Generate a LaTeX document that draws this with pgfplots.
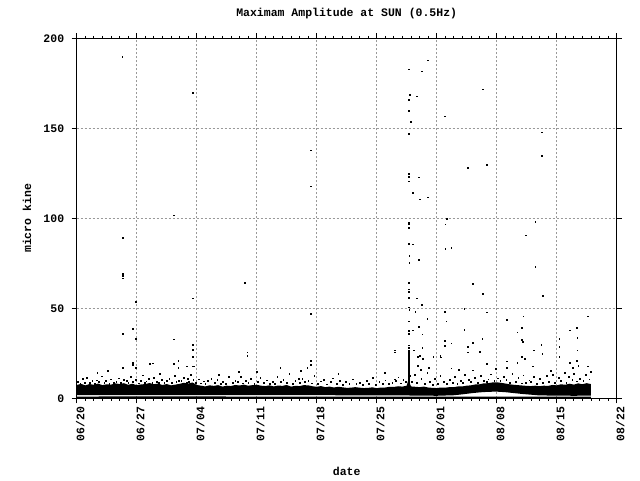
\documentclass[border=0pt]{standalone}
\usepackage{fontspec}
\setmonofont{Liberation Mono}
\usepackage{pgfplots}
\pgfplotsset{compat=1.18}
\begin{document}
\begin{tikzpicture}
\useasboundingbox (-76.7pt,-81.7pt) rectangle (563.3pt,398.3pt);
\begin{axis}[
  at={(0pt,0pt)}, anchor=south west,
  width=540pt, height=360pt, scale only axis,
  xmin=0, xmax=63, ymin=0, ymax=200,
  xtick={0,7,14,21,28,35,42,49,56,63},
  xticklabels={06/20,06/27,07/04,07/11,07/18,07/25,08/01,08/08,08/15,08/22},
  minor x tick num=6,
  ytick={0,50,100,150,200},
  tick align=outside,
  major tick length=5pt, minor tick length=2.5pt,
  tick style={black, line width=0.9pt},
  axis line style={line width=0.9pt},
  grid=major,
  major grid style={color=black!40, dash pattern=on 2pt off 2pt, line width=0.8pt},
  font=\ttfamily\bfseries\fontsize{11.5}{13}\selectfont,
  /pgf/number format/assume math mode=true,
  x tick label style={rotate=90, anchor=east, yshift=-3.5pt},
  y tick label style={xshift=-4pt},
  title={Maximam Amplitude at SUN (0.5Hz)},
  title style={at={(axis description cs:0.5,1.053)}, anchor=center},
  xlabel={date},
  xlabel style={at={(axis description cs:0.5,-0.204)}, anchor=center},
  ylabel={micro kine},
  ylabel style={at={(axis description cs:-0.092,0.5)}, anchor=center},
  clip=true,
  every mark/.append style={draw=none},
]
% dense core band
\addplot[fill=black, draw=none] coordinates {
(0,7.4) (0.5,8.0) (1,7.2) (1.5,7.9) (2,7.5) (2.5,8.2) (3,7.3) (3.5,7.8) (4,7.6) (4.5,8.3)
(5,7.9) (5.5,8.4) (6,7.5) (6.5,8.1) (7,7.3) (7.5,7.7) (8,7.9) (8.5,8.5) (9,7.8) (9.5,8.2)
(10,7.4) (10.5,7.9) (11,7.2) (11.5,7.6) (12,8.0) (12.5,8.6) (13,8.2) (13.5,8.8) (14,7.4) (14.5,7.0)
(15,6.6) (15.5,7.2) (16,6.9) (16.5,7.3) (17,6.5) (17.5,7.0) (18,6.8) (18.5,7.4) (19,7.1) (19.5,7.6)
(20,7.0) (20.5,7.3) (21,7.5) (21.5,7.0) (22,6.8) (22.5,7.2) (23,6.6) (23.5,7.1) (24,6.9) (24.5,7.4)
(25,6.5) (25.5,6.9) (26,6.8) (26.5,7.3) (27,7.2) (27.5,6.7) (28,6.4) (28.5,6.8) (29,6.2) (29.5,6.5)
(30,6.0) (30.5,6.4) (31,6.1) (31.5,5.8) (32,5.9) (32.5,6.2) (33,5.9) (33.5,5.7) (34,5.8) (34.5,6.1)
(35,5.6) (35.5,6.0) (36,6.0) (36.5,6.4) (37,6.3) (37.5,6.7) (38,6.5) (38.5,7.0) (38.65,9.5) (38.7,14)
(38.75,9.5) (39,6.6) (39.5,6.4) (40,6.2) (40.5,6.5) (41,6.0) (41.5,5.8) (42,5.7) (42.5,6.0) (43,5.9)
(43.5,6.2) (44,6.2) (44.5,6.6) (45,6.6) (45.5,7.0) (46,7.2) (46.5,7.7) (47,7.8) (47.5,8.3) (48,8.4)
(48.5,8.8) (49,8.9) (49.5,8.6) (50,8.2) (50.5,7.8) (51,7.5) (51.5,7.3) (52,7.1) (52.5,6.9) (53,6.8)
(53.5,7.0) (54,6.7) (54.5,7.0) (55,6.9) (55.5,7.4) (56,7.2) (56.5,7.8) (57,7.5) (57.5,8.1) (58,7.6)
(58.5,8.3) (59,7.8) (59.5,8.4) (60,7.9)
(60,1.5) (58,1.4) (56,1.5) (54,1.6) (53,2.0) (52,2.4) (51,2.9) (50,3.4) (49,3.7) (48,3.6)
(47,3.3) (46,2.8) (45,2.2) (44,1.7) (42,1.4) (40,1.5) (38,1.6) (35,1.6) (30,1.7) (25,1.7)
(20,1.7) (15,1.8) (10,1.7) (5,1.8) (0,1.7)
} -- cycle;
% thin low line
\addplot[black, line width=1.4pt] coordinates {(0,0.6) (10,0.65) (20,0.6) (30,0.55) (40,0.5) (50,0.6) (60,0.55)};
% scattered points above the band
\addplot[only marks, mark=square*, mark size=0.42pt, black] coordinates {
(0.1,9.3) (0.4,8.4) (0.7,10.9) (0.9,8.9) (1.2,11.6) (1.5,8.7) (1.8,9.6)
(2.1,8.2) (2.3,10.1) (2.6,9.0) (2.9,12.3) (3.2,8.8) (3.4,9.9) (3.8,8.3)
(4.0,10.6) (4.3,8.5) (4.6,9.4) (4.9,11.2) (5.1,8.9) (5.5,10.3) (5.8,9.7)
(6.0,8.6) (6.3,11.9) (6.5,9.2) (6.9,10.5) (7.2,8.4) (7.5,9.8) (7.7,12.8) (7.9,8.9)
(8.1,9.5) (8.4,10.8) (8.8,8.7) (9.0,11.4) (9.3,9.1) (9.6,8.6) (9.9,10.2)
(10.2,8.8) (10.5,9.9) (10.8,11.0) (11.1,8.5) (11.4,12.4) (11.6,9.3) (11.9,10.0)
(12.2,9.6) (12.5,11.3) (12.8,8.7) (12.95,10.7) (13.1,9.0) (13.3,12.9) (13.6,10.4) (13.9,8.9)
(14.2,10.6) (14.5,8.4) (14.8,9.5) (15.0,8.0) (15.3,9.7) (15.7,11.1)
(16.1,8.6) (16.4,10.2) (16.8,7.9) (17.0,9.4) (17.4,8.2) (17.7,11.8)
(18.2,8.8) (18.5,10.0) (18.8,9.1) (19.1,12.2) (19.4,8.4) (19.7,9.6)
(20.0,8.9) (20.3,10.8) (20.7,8.1) (21.1,9.3) (21.4,11.5) (21.8,8.5)
(22.2,10.1) (22.5,8.0) (22.9,9.0) (23.1,8.3) (23.4,12.0) (23.8,9.4)
(24.1,10.4) (24.5,8.6) (24.8,13.5) (25.2,8.2) (25.5,9.9) (25.9,10.9)
(26.0,8.7) (26.3,11.0) (26.6,9.2) (27.0,9.8) (27.4,8.4) (27.7,12.6)
(28.1,8.1) (28.5,9.5) (28.8,10.3) (29.2,7.8) (29.6,9.0) (29.9,11.2)
(30.3,8.3) (30.7,10.0) (31.0,7.6) (31.4,9.1) (31.8,8.2) (32.2,10.6) (32.6,7.9)
(33.0,8.8) (33.4,7.4) (33.8,9.7) (34.1,8.0) (34.5,11.3) (34.9,7.7)
(35.3,9.2) (35.7,8.1) (36.0,10.1) (36.4,7.9) (36.8,8.8) (37.2,9.6) (37.5,11.7) (37.8,8.4)
(38.1,10.3) (38.4,9.0) (38.9,12.5) (39.1,9.4) (39.4,13.2) (39.7,8.5)
(40.2,10.8) (40.6,8.2) (40.9,14.1) (41.2,9.3) (41.5,7.6) (41.8,11.0)
(42.1,8.0) (42.4,12.4) (42.8,9.1) (43.2,7.9) (43.5,10.5) (43.9,8.7)
(44.1,11.9) (44.4,8.3) (44.8,9.8) (45.0,8.9) (45.3,13.0) (45.7,10.2)
(46.0,9.4) (46.4,11.6) (46.8,8.8) (47.1,12.7) (47.5,10.0) (47.8,9.3)
(48.0,10.6) (48.3,13.4) (48.7,9.6) (49.1,11.2) (49.4,9.9) (49.8,12.1)
(50.1,10.4) (50.5,8.9) (50.8,13.6) (51.2,9.0) (51.5,11.5) (51.9,8.4)
(52.1,12.8) (52.4,8.6) (52.8,10.1) (53.0,9.2) (53.3,11.8) (53.7,8.3)
(54.0,10.7) (54.4,8.5) (54.8,12.6) (55.1,9.1) (55.5,13.1) (55.8,8.8)
(56.2,11.4) (56.5,9.6) (56.9,14.0) (57.1,8.9) (57.4,12.2) (57.8,10.3)
(58.0,13.8) (58.3,9.5) (58.7,11.0) (59.1,9.8) (59.4,12.9) (59.8,10.6) (59.95,15.0)
(2.4,14.2) (9.7,13.9) (16.6,13.1) (21.0,14.8) (26.1,15.5) (30.5,13.6) (35.9,14.3)
(44.6,15.7) (48.9,16.4) (55.3,15.2) (57.9,16.8) (3.6,15.3) (18.9,14.6)
};
% spike near 07/28
\addplot[only marks, mark=square*, mark size=0.42pt, black] coordinates {
(38.69,8.5) (38.69,9.2) (38.69,10) (38.69,10.8) (38.69,11.5) (38.69,12.3) (38.69,13) (38.69,13.8)
(38.69,14.5) (38.69,15.3) (38.69,16) (38.69,16.8) (38.69,17.5) (38.69,18.3) (38.69,19) (38.69,19.8)
(38.69,20.5) (38.69,21.3) (38.69,22) (38.69,22.8) (38.69,23.5) (38.69,24.5) (38.69,25.5) (38.69,26.5)
(38.69,28) (38.69,29.5) (38.8,12) (38.8,16) (38.8,21) (38.8,26)
};
% outliers
\addplot[only marks, mark=square*, mark size=0.42pt, black] coordinates {
(5.30,190.0) (13.49,170) (27.26,137.8) (27.26,117.8) (11.27,101.7)
(40.91,187.8) (38.69,182.8) (40.21,181.7) (47.32,171.7) (38.81,168.9) (39.62,167.8)
(38.69,166.1) (38.69,160) (42.89,156.7) (38.92,153.9) (38.69,147.2) (54.21,147.8)
(54.21,135) (45.57,128.3) (47.79,130) (38.69,125) (38.69,123.3) (39.86,122.8)
(38.69,120.6) (39.16,114.4) (39.97,110.6) (40.91,111.7) (38.69,97.8) (38.69,97.2)
(38.69,95) (43.12,100) (43.0,96.7) (53.5,98.3) (52.34,90.6) (38.69,86.1) (39.16,85.6)
(43.0,83.3) (43.7,83.9) (38.8,79.4) (38.8,75.5) (39.86,77.2) (53.5,73.3) (38.69,64.4)
(46.16,63.9) (38.69,60.6) (38.69,59.4) (38.69,56.1) (39.62,55.6) (47.32,58.3) (54.33,57.2)
(40.21,52.2) (38.69,50.6) (38.8,49.4) (39.5,48.3) (42.9,48.3) (45.2,50) (47.8,47.8)
(40.9,44.4) (59.57,45.6) (43.1,42.8) (50.2,43.9) (52.1,45.6) (38.69,42.8) (39.86,40)
(45.2,38.3) (51.9,39.4) (57.5,37.8) (58.3,39.4) (38.69,37.5) (38.69,36.1) (39.16,37.8)
(40.3,35.6) (51.4,36.7) (58.4,33.9) (42.9,32.2) (42.9,29.4) (43.7,30.6) (46.2,31.1)
(47.3,33.3) (51.9,32.5) (52.0,31.4) (56.3,33.3) (56.3,28.9) (54.2,30) (53.3,26.7)
(54.3,25) (37.1,26.7) (37.1,25.6) (45.6,28.9) (45.6,25.6) (47.0,26.1) (42.4,23.9)
(42.5,22.8) (40.3,28.3) (39.3,26.7) (40.0,23.9) (39.8,23.3) (40.4,22.2) (41.6,23.3)
(51.9,23.3) (52.3,22.2) (56.3,23.3) (58.4,26.7) (58.3,21.1) (57.5,20) (50.2,20.6)
(51.4,20.0) (47.8,19.4) (58.5,18.3) (59.6,17.8) (53.2,17.8) (39.8,18.3) (40.1,16)
(41.1,17.2) (43.7,16.7) (46.2,15.6) (50.2,17.2) (37.1,10.6)
(5.32,89.4) (5.32,69.4) (5.32,68.3) (5.32,66.7) (6.84,53.9) (19.56,64.4) (13.49,55.6)
(27.26,47.2) (6.49,38.9) (5.32,36.1) (6.84,33.3) (11.27,32.8) (13.49,30) (13.49,27.2)
(13.49,23.3) (11.85,21.1) (6.49,20) (6.49,19.2) (6.49,18.4) (19.9,25.6) (19.9,23.9)
(27.26,21.1) (27.26,18.9) (8.9,19.5) (8.5,19.0) (11.27,19) (12.8,17.8) (13.5,17.8)
(13.7,17.8) (5.32,17.2) (23.75,17.2) (26.9,17.2) (11.85,17.2) (6.84,17.0)
};
\end{axis}
\end{tikzpicture}
\end{document}
